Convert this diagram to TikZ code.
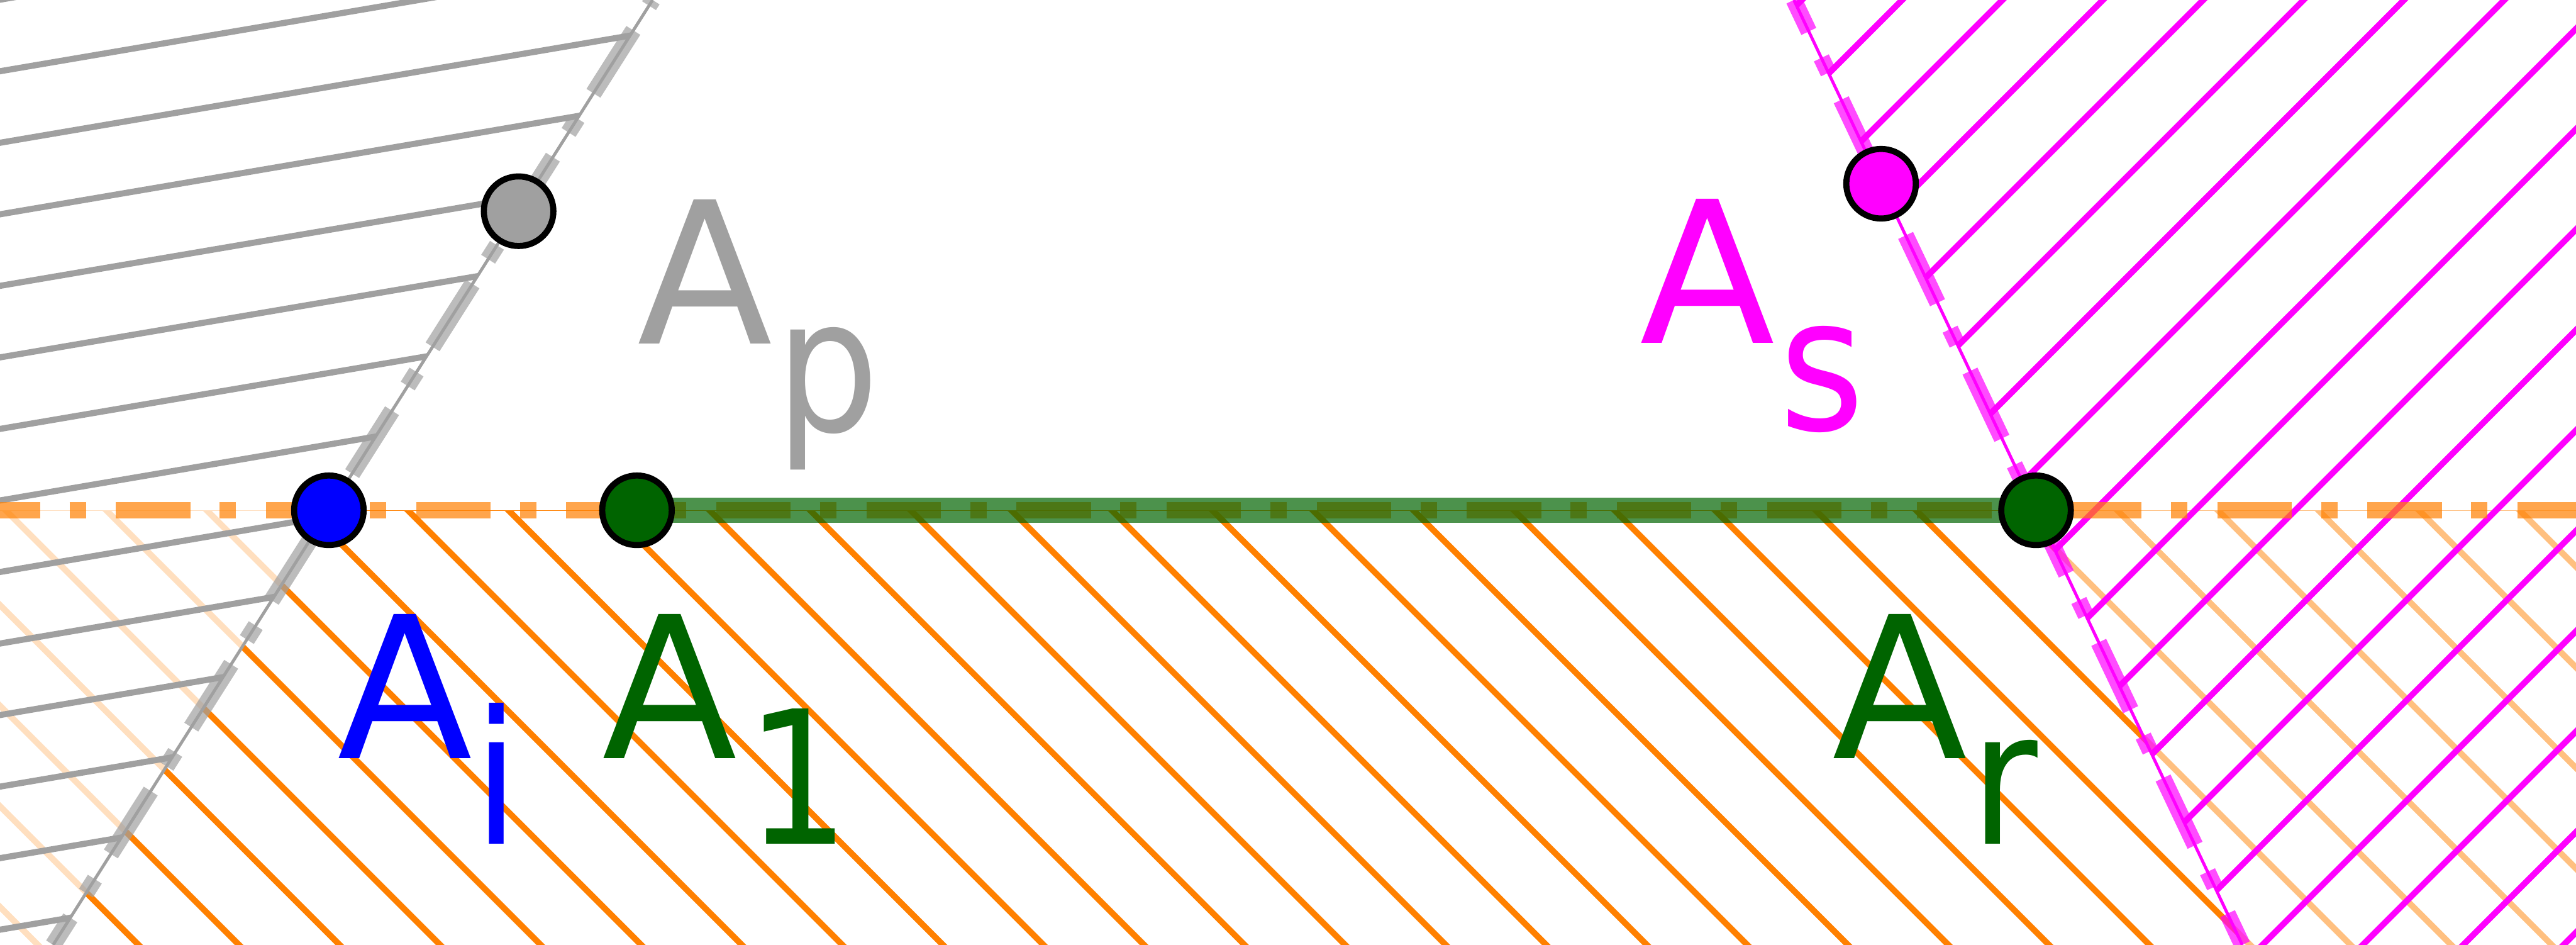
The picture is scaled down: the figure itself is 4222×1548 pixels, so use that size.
\documentclass[tikz,border=0pt]{standalone}
\usepackage{graphicx}
\usepackage{fontspec}
\setmainfont{DejaVu Sans}
\usetikzlibrary{calc}
\definecolor{gcol}{HTML}{A0A0A0}
\definecolor{ocol}{HTML}{FF8000}
\definecolor{mcol}{HTML}{FF00FF}
\definecolor{bcol}{HTML}{0000FF}
\definecolor{dgcol}{HTML}{006400}
\newcommand{\subtxt}[1]{\scalebox{0.88}[1]{#1}}
\begin{document}
\begin{tikzpicture}[x=1pt,y=-1pt,
  hatchline/.style={line width=10pt},
  thinbound/.style={line width=5pt},
  dashdotline/.style={line width=27pt, opacity=0.7, dash pattern=on 122pt off 48pt on 27pt off 49pt},
  ptnode/.style={circle, draw=black, line width=10pt, minimum size=114pt, inner sep=0pt},
  mainlab/.style={inner sep=0pt, outer sep=0pt, anchor=base west, font=\fontsize{324}{324}\selectfont},
  sublab/.style={inner sep=0pt, outer sep=0pt, anchor=base west, font=\fontsize{304}{304}\selectfont},
]
\useasboundingbox (0,0) rectangle (4222,1548);
\fill[white] (0,0) rectangle (4222,1548);

% key points
\coordinate (Ai) at (539,836);
\coordinate (A1) at (1044,836);
\coordinate (Ar) at (3337,836);
\coordinate (Ap) at (850,346);
\coordinate (As) at (3083,301);
% line ends at the picture edges
\coordinate (G0) at (87.1,1548);
\coordinate (G1) at (1069.6,0);
\coordinate (P0) at (2940.1,0);
\coordinate (P1) at (3675,1548);
\coordinate (O0) at (0,836);
\coordinate (O1) at (4222,836);
% far points for clipping
\coordinate (Gb) at ($(Ai)!-1.6!(Ap)$);
\coordinate (Gt) at ($(Ai)!2.0!(Ap)$);
\coordinate (Pb) at ($(Ar)!-1.5!(As)$);
\coordinate (Pt) at ($(Ar)!1.8!(As)$);

% orange hatching: middle (full)
\begin{scope}
  \clip (Ai) -- (Ar) -- (Pb) -- (Gb) -- cycle;
  \foreach \k in {-12,...,19} {
    \draw[ocol,hatchline] ({327+164.8*\k+800},800) -- ({327+164.8*\k+1700},1700);
  }
  \draw[ocol,thinbound] (0,834) -- (4222,834);
\end{scope}
% orange hatching: left (faint)
\begin{scope}
  \clip (-50,836) -- (Ai) -- (Gb) -- (-50,1700) -- cycle;
  \foreach \k in {-12,...,19} {
    \draw[ocol!25,hatchline] ({327+164.8*\k+800},800) -- ({327+164.8*\k+1700},1700);
  }
  \draw[ocol!25,thinbound] (0,834) -- (4222,834);
\end{scope}
% orange hatching: right (half)
\begin{scope}
  \clip (Ar) -- (4300,836) -- (4300,1700) -- (Pb) -- cycle;
  \foreach \k in {-12,...,19} {
    \draw[ocol!50,hatchline] ({327+164.8*\k+800},800) -- ({327+164.8*\k+1700},1700);
  }
  \draw[ocol!50,thinbound] (0,834) -- (4222,834);
\end{scope}

% gray hatching
\begin{scope}
  \clip (-50,-200) -- (Gt) -- (Gb) -- (-50,1700) -- cycle;
  \foreach \k in {-2,...,15} {
    \draw[gcol,hatchline] (-20,{116.7+117.2*\k+3.4}) -- (1250,{116.7+117.2*\k-212.5});
  }
\end{scope}
\draw[gcol,thinbound] (G0) -- (G1);

% pink hatching
\begin{scope}
  \clip (Pt) -- (4300,-200) -- (4300,1700) -- (Pb) -- cycle;
  \foreach \k in {-6,...,15} {
    \draw[mcol,hatchline] ({3611+164.5*\k+60},-60) -- ({3611+164.5*\k-1700},1700);
  }
\end{scope}
\draw[mcol,thinbound] (P0) -- (P1);

% dash-dotted boundary lines
\draw[ocol,dashdotline,dash phase=56pt] (O0) -- (O1);
\draw[gcol,dashdotline,dash phase=69.5pt] (G0) -- (G1);
\draw[mcol,dashdotline,dash phase=65pt] (P0) -- (P1);

% green segment
\draw[dgcol,line width=41pt,opacity=0.7] (A1) -- (Ar);

% points
\node[ptnode,fill=gcol] (nAp) at (Ap) {};
\node[ptnode,fill=mcol] (nAs) at (As) {};
\node[ptnode,fill=bcol] (nAi) at (Ai) {};
\node[ptnode,fill=dgcol] (nA1) at (A1) {};
\node[ptnode,fill=dgcol] (nAr) at (Ar) {};

% labels
\node[mainlab,text=gcol] (lAp) at (1044.5,563) {A};
\node[sublab,text=gcol] (sAp) at (1271,707) {\subtxt{p}};
\node[mainlab,text=mcol] (lAs) at (2687.5,562) {A};
\node[sublab,text=mcol] (sAs) at (2917,704) {\subtxt{s}};
\node[mainlab,text=bcol] (lAi) at (552.5,1243) {A};
\node[sublab,text=bcol] (sAi) at (777,1383) {\subtxt{i}};
\node[mainlab,text=dgcol] (lA1) at (986.5,1243) {A};
\node[sublab,text=dgcol] (sA1) at (1223,1383) {\subtxt{1}};
\node[mainlab,text=dgcol] (lAr) at (3003.5,1243) {A};
\node[sublab,text=dgcol] (sAr) at (3230,1383) {\subtxt{r}};
\end{tikzpicture}
\end{document}
